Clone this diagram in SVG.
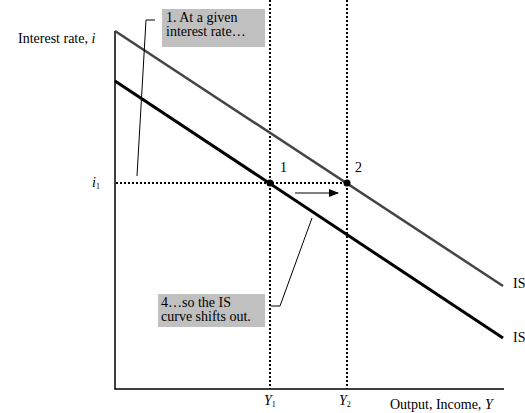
<svg xmlns="http://www.w3.org/2000/svg" width="525" height="413" viewBox="0 0 525 413">
<defs>
<style>
text{font-family:"Liberation Serif","Times New Roman",serif;font-size:14px;fill:#000}
.it{font-style:italic}
.sub{font-size:8px}
.dot{stroke:#000;stroke-width:2;stroke-dasharray:2,2;fill:none}
.ax{stroke:#000;stroke-width:1.5;fill:none}
.lead{stroke:#000;stroke-width:1;fill:none}
.box{fill:#c0c0c0}
</style>
<marker id="ah" markerWidth="10" markerHeight="8" refX="9" refY="4" orient="auto" markerUnits="userSpaceOnUse">
<path d="M0,0 L10,4 L0,8 Z" fill="#000"/>
</marker>
</defs>
<rect width="525" height="413" fill="#fff"/>
<g id="connectors">
<line class="dot" x1="270" y1="0" x2="270" y2="389"/>
<line class="dot" x1="347" y1="0" x2="347" y2="389"/>
<line class="dot" x1="116" y1="183" x2="347" y2="183"/>
<polyline class="ax" points="115,31 115,389 504,389"/>
<line x1="115" y1="31" x2="503" y2="286" stroke="#444" stroke-width="2.5"/>
<line x1="115" y1="81" x2="503" y2="338" stroke="#000" stroke-width="3"/>
<line x1="295" y1="193" x2="338" y2="193" stroke="#000" stroke-width="1.2" marker-end="url(#ah)"/>
<polyline class="lead" points="155,20 146,20 137,176"/>
<polyline class="lead" points="271,306 280,306 312,218"/>
</g>
<g id="point1"><circle cx="270" cy="183" r="3.5" fill="#000"/><text x="280" y="172">1</text></g>
<g id="point2"><circle cx="347" cy="183" r="3.5" fill="#000"/><text x="355" y="172">2</text></g>
<g id="note1"><rect class="box" x="162" y="9" width="103" height="38"/><text x="166" y="22">1. At a given</text><text x="166" y="36">interest rate…</text></g>
<g id="note4"><rect class="box" x="158" y="294" width="107" height="33"/><text x="161" y="307">4…so the IS</text><text x="161" y="321">curve shifts out.</text></g>
<g id="labels">
<text x="18" y="43">Interest rate, <tspan class="it">i</tspan></text>
<text x="92" y="187" class="it">i<tspan class="sub" dy="2" font-style="normal">1</tspan></text>
<text x="513" y="288">IS</text>
<text x="513" y="342">IS</text>
<text x="264" y="405" class="it">Y<tspan class="sub" dy="2" font-style="normal">1</tspan></text>
<text x="339" y="405" class="it">Y<tspan class="sub" dy="2" font-style="normal">2</tspan></text>
<text x="390" y="409">Output, Income, <tspan class="it">Y</tspan></text>
</g>
</svg>
